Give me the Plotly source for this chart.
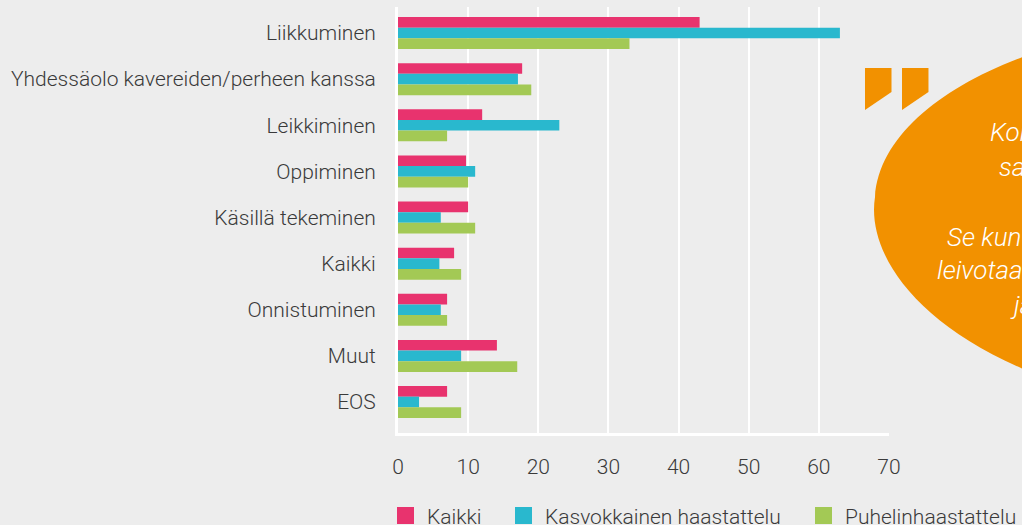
import plotly.graph_objects as go

categories = ["Liikkuminen", "Yhdessäolo kavereiden/perheen kanssa", "Leikkiminen",
              "Oppiminen", "Käsillä tekeminen", "Kaikki", "Onnistuminen", "Muut", "EOS"]
kaikki = [43, 17.7, 12, 9.7, 10, 8, 7, 14.1, 7]
kasvokkainen = [63, 17.1, 23, 11, 6.1, 5.9, 6.1, 9, 3]
puhelin = [33, 19, 7, 10, 11, 9, 7, 17, 9]
series_names = ["Kaikki", "Kasvokkainen haastattelu", "Puhelinhaastattelu"]
colors = ["#E8336E", "#29B8CE", "#A3C955"]
x_ticks = [0, 10, 20, 30, 40, 50, 60, 70]
quote_lines = ["Kokkikerhossa on kivaa,", "saa tehdä itse.", "Se kun yhdessä",
               "leivotaan pullaa", "ja syödään."]

W, H = 1022, 525
L, R, T, B = 398, 889, 7, 433

def px(x):
    return (x - L) / (R - L)

def py(y):
    return (B - y) / (B - T)

fig = go.Figure()
for name, vals, c in zip(series_names, [kaikki, kasvokkainen, puhelin], colors):
    fig.add_trace(go.Bar(y=categories, x=vals, name=name, orientation="h",
                         showlegend=False,
                         marker=dict(color=c, line=dict(width=0))))

text_color = "#3a3a3a"
font = dict(family="Roboto", size=21, color=text_color, weight=300)

shapes = []
pts = "M {} {} C {} {} {} {} {} {} C {} {} {} {} {} {} L {} {} L {} {} Z"
bp = [(1100, 35), (980, 60), (880, 120), (875, 197), (865, 260), (930, 350),
      (1100, 395), (1300, 395), (1300, 35)]
coords = []
for x, y in bp:
    coords += [f"{px(x):.4f}", f"{py(y):.4f}"]
shapes.append(dict(type="path", xref="paper", yref="paper", path=pts.format(*coords),
                   fillcolor="#F29100", line=dict(width=0), layer="above"))
for x0 in (865, 902):
    q = [(x0, 68), (x0 + 26.5, 68), (x0 + 26.5, 92), (x0, 110)]
    path = "M " + " L ".join(f"{px(a):.4f} {py(b):.4f}" for a, b in q) + " Z"
    shapes.append(dict(type="path", xref="paper", yref="paper", path=path,
                       fillcolor="#F29100", line=dict(width=0), layer="above"))

annotations = []
line_pos = [(988, 132), (997, 167), (945, 237), (935, 270), (1008, 305)]
for txt, (x, y) in zip(quote_lines, line_pos):
    annotations.append(dict(text=f"<i>{txt}</i>", xref="paper", yref="paper",
                            x=px(x), y=py(y), xanchor="left", yanchor="middle",
                            showarrow=False,
                            font=dict(family="Roboto", size=26, color="white")))

# legend drawn as swatches + labels (cut off at the bottom edge as in the original)
legend_x = [397, 515, 815]
for name, c, x0 in zip(series_names, colors, legend_x):
    shapes.append(dict(type="rect", xref="paper", yref="paper",
                       x0=px(x0), x1=px(x0 + 17), y0=py(507), y1=py(524),
                       fillcolor=c, line=dict(width=0)))
    annotations.append(dict(text=name, xref="paper", yref="paper",
                            x=px(x0 + 28), y=py(517), xanchor="left", yanchor="middle",
                            showarrow=False, font=font))

fig.update_layout(
    width=W, height=H,
    margin=dict(l=L, r=W - R, t=T, b=H - B, pad=0),
    paper_bgcolor="#EDEDED", plot_bgcolor="#EDEDED",
    barmode="group", bargap=0.306, bargroupgap=0,
    font=font,
    showlegend=False,
    xaxis=dict(range=[0, 70], tickvals=x_ticks, showgrid=True, gridcolor="white",
               gridwidth=2, zeroline=False, showline=True, linecolor="white",
               linewidth=3, ticks="", ticklabelstandoff=13, fixedrange=True),
    yaxis=dict(type="category", range=[8.672, -0.564], showgrid=False, zeroline=False,
               showline=True, linecolor="white", linewidth=3, ticks="",
               ticklabelstandoff=15, fixedrange=True),
    shapes=shapes, annotations=annotations,
)
fig.write_html("out.html", config={"displayModeBar": False},
               post_script="document.body.style.margin='0';document.body.style.background='#EDEDED';document.body.style.overflow='hidden';")
